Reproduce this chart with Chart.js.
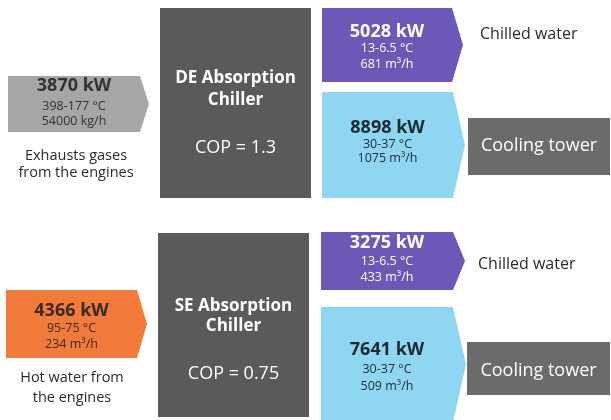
<!DOCTYPE html>
<html>
<head>
<meta charset="utf-8">
<script src="https://cdn.jsdelivr.net/npm/chart.js@4.4.1/dist/chart.umd.min.js"></script>
<style>
html,body{margin:0;padding:0;background:#ffffff;}
#wrap{width:611px;height:420px;}
</style>
</head>
<body>
<div id="wrap"><canvas id="c" width="611" height="420"></canvas></div>
<script>
// ---- data ----
const sourceNames = [['Exhausts gases', 'from the engines'], ['Hot water from', 'the engines']];
const sourcePower = [3870, 4366];
const sourceTemps = ['398-177 °C', '95-75 °C'];
const sourceFlows = ['54000 kg/h', '234 m³/h'];
const chillerNames = [['DE Absorption', 'Chiller'], ['SE Absorption', 'Chiller']];
const chillerCOP = [1.3, 0.75];
const chilledPower = [5028, 3275];
const chilledTemps = ['13-6.5 °C', '13-6.5 °C'];
const chilledFlows = ['681 m³/h', '433 m³/h'];
const coolingPower = [8898, 7641];
const coolingTemps = ['30-37 °C', '30-37 °C'];
const coolingFlows = ['1075 m³/h', '509 m³/h'];
const outputLabels = ['Chilled water', 'Cooling tower'];

// ---- layout (positions in axis units) ----
const L = [
  {
    src: {x0: 8, x1: 140, tip: 149, y0: 76, y1: 132, lines: [86, 106, 121], cap: [156, 173], capX: 76},
    ch: {x0: 160, x1: 311, y0: 8, y1: 198, t: [78, 100], cop: 148},
    pu: {x0: 322, x1: 452, tip: 463, y0: 8, y1: 82, lines: [32, 48, 64]},
    bl: {x0: 322, x1: 453, tip: 465, y0: 92, y1: 198, lines: [128, 144, 158]},
    cw: {x: 480, y: 34},
    ct: {x0: 468, x1: 610, y0: 118, y1: 175, ty: 146}
  },
  {
    src: {x0: 6, x1: 137, tip: 147, y0: 290, y1: 358, lines: [311, 328, 344], cap: [378, 398], capX: 72},
    ch: {x0: 158, x1: 309, y0: 233, y1: 417, t: [306, 326], cop: 374},
    pu: {x0: 321, x1: 453, tip: 465, y0: 232, y1: 290, lines: [243, 261, 277]},
    bl: {x0: 321, x1: 453, tip: 466, y0: 307, y1: 422, lines: [350, 369, 386]},
    cw: {x: 478, y: 264},
    ct: {x0: 467, x1: 610, y0: 342, y1: 395, ty: 371}
  }
];

const COL = {
  src: ['#a6a6a6', '#f27b3b'],
  srcText: ['#333333', '#3b2a20'],
  chiller: '#5a5a5a',
  purple: '#6b58b7',
  blue: '#8fd6f2',
  blueText: '#1e2a33',
  tower: '#6b6b6b'
};
const FF = '"Open Sans", "DejaVu Sans", sans-serif';

const diagram = {
  id: 'diagram',
  afterDraw(chart) {
    const ctx = chart.ctx;
    const sx = chart.scales.x, sy = chart.scales.y;
    const X = v => sx.getPixelForValue(v);
    const Y = v => sy.getPixelForValue(v);

    function arrow(b, color) {
      ctx.beginPath();
      ctx.moveTo(X(b.x0), Y(b.y0));
      ctx.lineTo(X(b.x1), Y(b.y0));
      ctx.lineTo(X(b.tip), Y((b.y0 + b.y1) / 2));
      ctx.lineTo(X(b.x1), Y(b.y1));
      ctx.lineTo(X(b.x0), Y(b.y1));
      ctx.closePath();
      ctx.fillStyle = color;
      ctx.fill();
    }
    function rect(b, color) {
      ctx.fillStyle = color;
      ctx.fillRect(X(b.x0), Y(b.y0), X(b.x1) - X(b.x0), Y(b.y1) - Y(b.y0));
    }
    function text(s, x, y, font, color, align) {
      ctx.font = font;
      ctx.fillStyle = color;
      ctx.textAlign = align || 'center';
      ctx.textBaseline = 'middle';
      ctx.fillText(s, X(x), Y(y));
    }
    function block(b, lines, color) {
      const cx = (b.x0 + b.x1) / 2;
      text(lines[0], cx, b.lines[0], 'bold 18px ' + FF, color);
      text(lines[1], cx, b.lines[1], '12.5px ' + FF, color);
      text(lines[2], cx, b.lines[2], '12.5px ' + FF, color);
    }

    ctx.save();
    L.forEach((g, i) => {
      // source
      arrow(g.src, COL.src[i]);
      block(g.src, [sourcePower[i] + ' kW', sourceTemps[i], sourceFlows[i]], COL.srcText[i]);
      text(sourceNames[i][0], g.src.capX, g.src.cap[0], '14.5px ' + FF, '#2b2b2b');
      text(sourceNames[i][1], g.src.capX, g.src.cap[1], '14.5px ' + FF, '#2b2b2b');
      // chiller
      rect(g.ch, COL.chiller);
      const ccx = (g.ch.x0 + g.ch.x1) / 2;
      text(chillerNames[i][0], ccx, g.ch.t[0], 'bold 17px ' + FF, '#ffffff');
      text(chillerNames[i][1], ccx, g.ch.t[1], 'bold 17px ' + FF, '#ffffff');
      text('COP = ' + chillerCOP[i], ccx, g.ch.cop, '18px ' + FF, '#ffffff');
      // chilled water
      arrow(g.pu, COL.purple);
      block(g.pu, [chilledPower[i] + ' kW', chilledTemps[i], chilledFlows[i]], '#ffffff');
      // cooling
      arrow(g.bl, COL.blue);
      block(g.bl, [coolingPower[i] + ' kW', coolingTemps[i], coolingFlows[i]], COL.blueText);
      // outputs
      text(outputLabels[0], g.cw.x, g.cw.y, '16px ' + FF, '#2b2b2b', 'left');
      rect(g.ct, COL.tower);
      text(outputLabels[1], (g.ct.x0 + g.ct.x1) / 2, g.ct.ty, '18px ' + FF, '#ffffff');
    });
    ctx.restore();
  }
};

new Chart(document.getElementById('c'), {
  type: 'scatter',
  data: {datasets: [{data: [], pointRadius: 0}]},
  options: {
    responsive: false,
    animation: false,
    layout: {padding: 0},
    plugins: {legend: {display: false}, tooltip: {enabled: false}, title: {display: false}},
    scales: {
      x: {type: 'linear', min: 0, max: 611, display: false},
      y: {type: 'linear', min: 0, max: 420, reverse: true, display: false}
    }
  },
  plugins: [diagram]
});
</script>
</body>
</html>
